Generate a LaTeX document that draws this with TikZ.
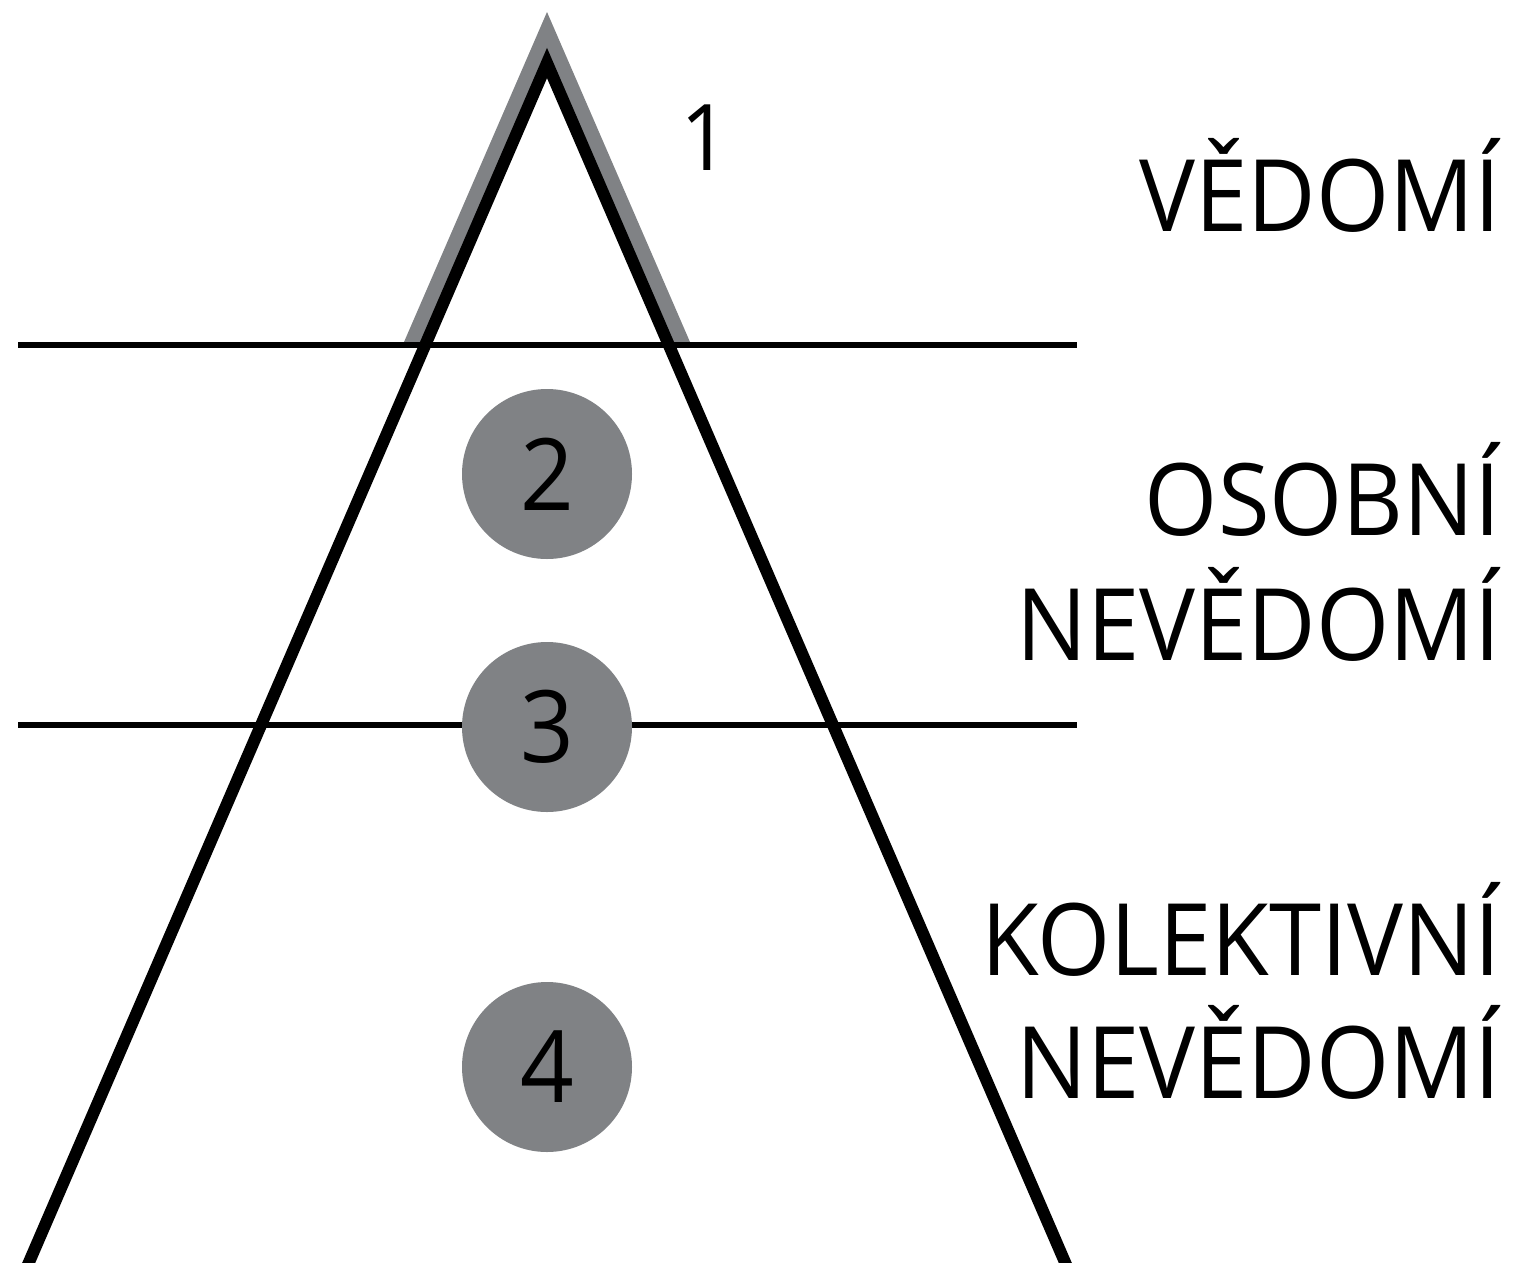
\documentclass[tikz,border=0pt]{standalone}
\usepackage{fontspec}
\setmainfont{Open Sans}[FakeStretch=0.94]
\definecolor{pgray}{RGB}{128,130,133}
\begin{document}
\begin{tikzpicture}[x=1pt,y=-1pt,
  blackline/.style={line width=12pt,line join=miter,miter limit=10},
  hline/.style={line width=6pt},
  numcirc/.style={circle,fill=pgray,minimum size=170pt,inner sep=0pt,font=\fontsize{100}{120}\selectfont},
  lab/.style={anchor=base east,inner sep=0pt,font=\fontsize{100}{125}\selectfont}]
\useasboundingbox (0,0) rectangle (1513,1262);
% coordinates
\coordinate (apex) at (547,63);
\coordinate (gapex) at (547,12);
\coordinate (gl) at (404,342);
\coordinate (gr) at (690,342);
\coordinate (wl) at (425,345);
\coordinate (wr) at (669,345);
\coordinate (bl) at (17,1290);
\coordinate (br) at (1077,1290);
\coordinate (h1a) at (18,345);
\coordinate (h1b) at (1077,345);
\coordinate (h2a) at (18,725);
\coordinate (h2b) at (1077,725);
% gray band
\fill[pgray] (gapex) -- (gr) -- (gl) -- cycle;
\fill[white] (apex) -- (wr) -- (wl) -- cycle;
% horizontal lines
\draw[hline] (h1a) -- (h1b);
\draw[hline] (h2a) -- (h2b);
% black triangle
\draw[blackline] (bl) -- (apex) -- (br);
% circles
\node[numcirc] (c2) at (547,474) {2};
\node[numcirc] (c3) at (547,727) {3};
\node[numcirc] (c4) at (547,1067) {4};
% labels
\node[anchor=base,inner sep=0pt,font=\fontsize{92}{110}\selectfont] (n1) at (705,170) {1};
\node[lab] (l1) at (1501,231) {VĚDOMÍ};
\node[lab] (l2a) at (1501,535) {OSOBNÍ};
\node[lab] (l2b) at (1501,660) {NEVĚDOMÍ};
\node[lab] (l3a) at (1501,975) {KOLEKTIVNÍ};
\node[lab] (l3b) at (1501,1098) {NEVĚDOMÍ};
\end{tikzpicture}
\end{document}
